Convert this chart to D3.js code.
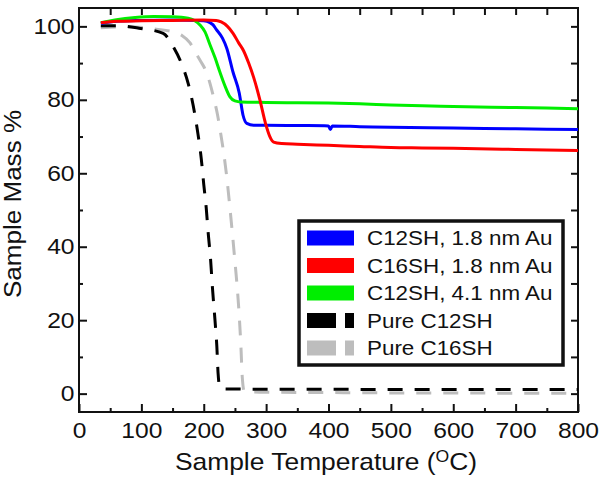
<!DOCTYPE html>
<html><head><meta charset="utf-8">
<script src="https://cdn.jsdelivr.net/npm/d3@7"></script>
<style>
html,body{margin:0;padding:0;background:#fff;}
text{font-family:"Liberation Sans",Arial,Helvetica,sans-serif;fill:#111;}
</style></head>
<body><svg id="chart" width="603" height="488"></svg>
<script>
// ---- data (temperature in °C, sample mass in %) ----
const tempC12Au18 = [35,60,100,150,200,210,215,220,230,237,247,257,263,269,280,300,350,400,403,406,450,500,600,700,800];
const massC12Au18 = [100.8,101.4,101.6,101.7,101.5,101.0,100.4,99.2,96.8,94.0,87.5,81.8,75.8,73.6,73.1,73.1,73.0,72.9,71.9,72.9,72.7,72.5,72.3,72.1,71.9];

const tempC16Au18 = [35,60,100,150,200,220,228,238,247,256,264,272,280,290,299,306,312,325,350,400,450,500,550,600,700,800];
const massC16Au18 = [101.0,101.4,101.5,101.6,101.7,101.6,101.2,100.0,98.1,95.5,93.3,90.0,86.1,80.0,73.6,70.0,68.5,68.1,67.9,67.6,67.3,67.0,66.9,66.8,66.5,66.2];

const tempC12Au41 = [35,60,90,120,150,175,185,194,202,210,218,226,234,242,250,260,300,350,400,450,500,550,600,700,800];
const massC12Au41 = [101.0,101.8,102.4,102.7,102.6,102.2,101.6,100.4,98.5,95.0,91.5,87.5,83.8,80.8,79.7,79.4,79.3,79.2,79.1,78.9,78.6,78.4,78.2,77.9,77.6];

const tempPureC12 = [35,60,96,135,151,164,175,183,190,196,200,204,207,211,214,218,221,223,226,232,300,400,500,600,700,800];
const massPureC12 = [100.2,100.2,99.5,98.1,94.5,90.0,84.5,78.5,71.5,64.0,57.0,50.5,44.0,36.4,28.7,20.0,12.8,5.5,1.6,1.3,1.2,1.2,1.1,1.1,1.1,1.1];

const tempPureC16 = [35,60,90,124,150,165,178,187,195,203,210,216,222,227,232,237,242,246,250,254,257,259.6,261.7,265,300,400,500,600,700,800];
const massPureC16 = [99.6,99.8,99.8,99.2,98.5,97.5,95.5,92.8,90.5,88.0,84.5,80.5,76.0,71.0,65.5,58.8,50.5,43.5,36.0,28.2,20.9,12.8,4.6,0.6,0.4,0.3,0.2,0.2,0.1,0.1];

const seriesLabels = ["C12SH, 1.8 nm Au","C16SH, 1.8 nm Au","C12SH, 4.1 nm Au","Pure C12SH","Pure C16SH"];
const seriesColors = ["#0000ff","#ff0000","#00ee00","#000000","#bdbdbd"];
const xTicks = [0,100,200,300,400,500,600,700,800];
const yTicks = [0,20,40,60,80,100];

// ---- layout ----
const svg = d3.select("#chart");
const L = 79, R = 578, T = 8, B = 412;
const x = d3.scaleLinear().domain([0,800]).range([L,R]);
const y = d3.scaleLinear().domain([-5,105]).range([B,T]);
const TX = 1.12; // horizontal stretch of text in reference

function styleAxis(g){
  g.select(".domain").remove();
  g.selectAll(".tick line").attr("stroke","#111").attr("stroke-width",2);
}

// bottom axis
const gb = svg.append("g").attr("transform",`translate(0,${B})`)
  .call(d3.axisBottom(x).tickValues(xTicks).tickSize(-8).tickSizeOuter(0).tickPadding(10));
styleAxis(gb);
gb.selectAll("text").attr("font-size",22).attr("fill","#111")
  .attr("transform",`scale(${TX},1)`);
const gbm = svg.append("g").attr("transform",`translate(0,${B})`)
  .call(d3.axisBottom(x).tickValues(d3.range(50,800,100)).tickSize(-4).tickSizeOuter(0).tickFormat(""));
styleAxis(gbm);

// left axis
const gl = svg.append("g").attr("transform",`translate(${L},0)`)
  .call(d3.axisLeft(y).tickValues(yTicks).tickSize(-8).tickSizeOuter(0).tickPadding(4));
styleAxis(gl);
gl.selectAll("text").attr("font-size",22).attr("fill","#111")
  .attr("transform",`scale(${TX},1)`);
const glm = svg.append("g").attr("transform",`translate(${L},0)`)
  .call(d3.axisLeft(y).tickValues(d3.range(10,100,20)).tickSize(-4).tickSizeOuter(0).tickFormat(""));
styleAxis(glm);

// right and top axes (ticks only)
const gr = svg.append("g").attr("transform",`translate(${R},0)`)
  .call(d3.axisRight(y).tickValues(d3.range(0,101,10)).tickSize(-7).tickSizeOuter(0).tickFormat(""));
styleAxis(gr);
const gt = svg.append("g").attr("transform",`translate(0,${T})`)
  .call(d3.axisTop(x).tickValues(d3.range(50,800,50)).tickSize(-7).tickSizeOuter(0).tickFormat(""));
styleAxis(gt);

// frame
svg.append("rect").attr("x",L).attr("y",T).attr("width",R-L).attr("height",B-T)
  .attr("fill","none").attr("stroke","#111").attr("stroke-width",2);

// ---- curves ----
const line = d3.line().x(d=>x(d[0])).y(d=>y(d[1])).curve(d3.curveMonotoneX);
const clip = svg.append("clipPath").attr("id","clip").append("rect")
  .attr("x",L).attr("y",T).attr("width",R-L).attr("height",B-T);
const plot = svg.append("g").attr("clip-path","url(#clip)");
const series = [
  {t:tempPureC16, m:massPureC16, c:seriesColors[4], dash:"15,12"},
  {t:tempPureC12, m:massPureC12, c:seriesColors[3], dash:"15,12"},
  {t:tempC12Au18, m:massC12Au18, c:seriesColors[0], dash:null},
  {t:tempC12Au41, m:massC12Au41, c:seriesColors[2], dash:null},
  {t:tempC16Au18, m:massC16Au18, c:seriesColors[1], dash:null}
];
series.forEach(s=>{
  plot.append("path").datum(d3.zip(s.t,s.m)).attr("d",line)
    .attr("fill","none").attr("stroke",s.c).attr("stroke-width",3)
    .attr("stroke-dasharray",s.dash);
});

// ---- legend ----
const lg = svg.append("g");
lg.append("rect").attr("x",299).attr("y",221).attr("width",264).attr("height",144)
  .attr("fill","#fff").attr("stroke","#111").attr("stroke-width",3.5);
const rowY = [238,265.5,293,320.5,348];
seriesLabels.forEach((lab,i)=>{
  const cy = rowY[i];
  if(i<3){
    lg.append("rect").attr("x",307).attr("y",cy-7.5).attr("width",47).attr("height",15).attr("fill",seriesColors[i]);
  } else {
    lg.append("rect").attr("x",307).attr("y",cy-7.5).attr("width",29).attr("height",15).attr("fill",seriesColors[i]);
    lg.append("rect").attr("x",345).attr("y",cy-7.5).attr("width",9).attr("height",15).attr("fill",seriesColors[i]);
  }
  lg.append("text").attr("transform",`translate(367,${cy+7}) scale(${TX},1)`)
    .attr("font-size",20).text(lab);
});

// ---- axis titles ----
const xt = svg.append("text").attr("transform",`translate(326,470) scale(1.1,1)`)
  .attr("text-anchor","middle").attr("font-size",24);
xt.append("tspan").text("Sample Temperature (");
xt.append("tspan").attr("font-size",16).attr("dy",-8).text("O");
xt.append("tspan").attr("dy",8).text("C)");

svg.append("text").attr("transform",`translate(21,204) rotate(-90) scale(1.085,1)`)
  .attr("text-anchor","middle").attr("font-size",24).text("Sample Mass %");
</script></body></html>
